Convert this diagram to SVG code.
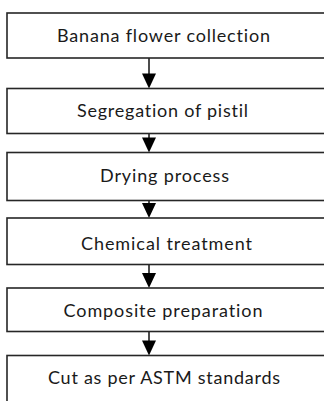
<svg xmlns="http://www.w3.org/2000/svg" width="324" height="401" viewBox="0 0 324 401">
<style>
.box{fill:#fff;stroke:#262626;stroke-width:1.6}
.lbl{font-family:Lato,"Open Sans","Liberation Sans",sans-serif;font-size:18px;fill:#1a1a1a;text-anchor:middle;font-variant-ligatures:none;font-feature-settings:"liga" 0,"clig" 0}
.ln{stroke:#111;stroke-width:1.5;fill:none}
.ah{fill:#000}
</style>
<rect width="324" height="401" fill="#fff"/>
<g id="connectors">
<line class="ln" x1="149" y1="58" x2="149" y2="75"/><polygon class="ah" points="142,73.5 156,73.5 149,88.5"/>
<line class="ln" x1="149" y1="133.5" x2="149" y2="139"/><polygon class="ah" points="142,137.5 156,137.5 149,152.5"/>
<line class="ln" x1="149" y1="200.5" x2="149" y2="205"/><polygon class="ah" points="142,203 156,203 149,218"/>
<line class="ln" x1="149" y1="264.5" x2="149" y2="275"/><polygon class="ah" points="142,273 156,273 149,288"/>
<line class="ln" x1="149" y1="331.5" x2="149" y2="342"/><polygon class="ah" points="142,340.5 156,340.5 149,355.5"/>
</g>
<g id="n1"><rect class="box" x="7" y="13" width="330" height="45"/><text class="lbl" x="163.5" y="42" textLength="213">Banana flower collection</text></g>
<g id="n2"><rect class="box" x="7" y="88.5" width="330" height="45"/><text class="lbl" x="162.5" y="117" textLength="171">Segregation of pistil</text></g>
<g id="n3"><rect class="box" x="7" y="152.5" width="330" height="48"/><text class="lbl" x="164.5" y="182" textLength="129">Drying process</text></g>
<g id="n4"><rect class="box" x="7" y="218" width="330" height="46.5"/><text class="lbl" x="166.5" y="250" textLength="171">Chemical treatment</text></g>
<g id="n5"><rect class="box" x="7" y="288" width="330" height="43.5"/><text class="lbl" x="163" y="317" textLength="199">Composite preparation</text></g>
<g id="n6"><rect class="box" x="7" y="355.5" width="330" height="60"/><text class="lbl" x="164" y="384" textLength="232">Cut as per ASTM standards</text></g>
</svg>
